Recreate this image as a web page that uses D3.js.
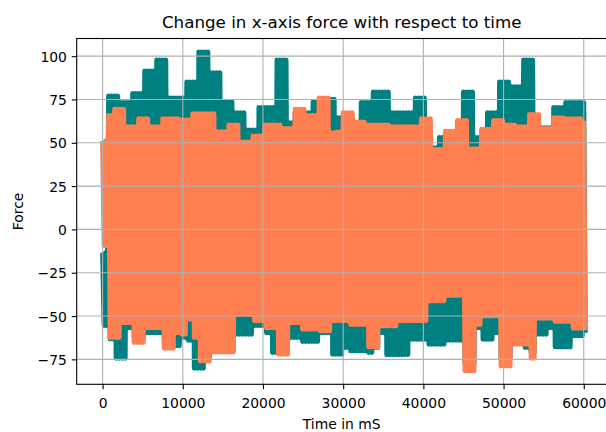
<!DOCTYPE html>
<html>
<head>
<meta charset="utf-8">
<script src="https://cdn.jsdelivr.net/npm/d3@7"></script>
<style>
  html, body { margin: 0; padding: 0; background: #ffffff; }
  svg { display: block; }
  text { font-family: "DejaVu Sans", sans-serif; fill: #000; }
</style>
</head>
<body>
<svg id="chart" width="606" height="432"></svg>
<script>
// ---- data ----
const title = "Change in x-axis force with respect to time";
const xLabel = "Time in mS";
const yLabel = "Force";

const timeMs = [0,750,1500,2250,3000,3750,4500,5250,6000,6750,7500,8250,9000,9750,10500,11250,12000,12750,13500,14250,15000,15750,16500,17250,18000,18750,19500,20250,21000,21750,22500,23250,24000,24750,25500,26250,27000,27750,28500,29250,30000,30750,31500,32250,33000,33750,34500,35250,36000,36750,37500,38250,39000,39750,40500,41250,42000,42750,43500,44250,45000,45750,46500,47250,48000,48750,49500,50250,51000,51750,52500,53250,54000,54750,55500,56250,57000,57750,58500,59250,60000];

// upper / lower envelope of each oscillating series
const tealHigh = [-13.4,77.0,77.0,73.2,73.2,78.5,78.5,91.4,91.4,97.8,
  97.8,75.9,75.9,75.9,85.1,85.1,102.4,102.4,90.5,90.5,
  73.6,73.6,67.4,67.4,57.4,57.4,70.3,70.3,70.3,97.8,
  97.8,61.6,67.4,66.2,67.4,73.6,73.6,73.6,75.1,64.5,
  64.5,64.5,61.6,73.2,73.2,79.3,79.3,79.3,67.4,67.4,
  67.4,67.4,75.9,75.9,58.7,47.2,53.0,55.8,55.8,58.7,
  79.3,79.3,53.0,55.8,67.4,67.4,85.1,85.1,82.4,82.4,
  97.8,97.8,61.6,58.7,58.7,70.3,70.3,73.2,73.2,73.2,73.2];
const tealLow = [-55.5,-63.3,-74.4,-74.4,-56.7,-62.4,-62.4,-59.6,-59.6,-59.6,
  -65.3,-65.3,-67.2,-62.4,-64.0,-80.1,-80.1,-74.0,-68.2,-68.2,
  -68.2,-68.2,-60.5,-60.5,-60.5,-55.5,-55.5,-59.6,-71.1,-71.1,
  -68.2,-62.4,-62.4,-64.7,-64.7,-64.7,-59.6,-59.6,-72.1,-72.1,
  -68.2,-70.1,-70.1,-70.1,-71.1,-68.2,-59.6,-72.4,-72.4,-72.4,
  -72.2,-63.4,-63.4,-63.4,-66.3,-66.3,-66.3,-64.0,-64.0,-64.0,
  -76.8,-76.8,-56.7,-63.4,-63.4,-59.6,-74.0,-74.0,-65.3,-65.3,
  -68.2,-71.1,-60.5,-60.5,-56.7,-67.8,-67.8,-67.8,-61.4,-61.4,-59.6];
const coralHigh = [51.1,65.8,69.3,69.3,59.3,59.3,63.9,63.9,59.3,59.3,
  63.9,63.9,63.9,63.2,63.2,66.8,66.8,66.8,66.8,56.4,
  56.4,60.3,60.3,50.5,50.5,53.9,53.9,60.3,60.3,60.3,
  58.3,58.3,69.3,69.3,65.8,65.8,75.9,75.9,55.8,56.3,
  67.4,67.4,62.0,62.0,60.3,60.3,60.3,60.3,59.3,59.3,
  59.3,59.3,59.3,63.9,63.9,46.2,46.2,56.6,56.6,62.9,
  62.9,46.6,46.6,57.8,57.8,62.9,62.9,60.3,60.3,59.3,
  59.3,66.4,66.4,58.3,58.3,64.5,64.5,63.9,63.9,63.9,61.6];
const coralLow = [-9.3,-62.4,-62.4,-53.8,-53.8,-65.3,-65.3,-56.7,-56.7,-56.7,
  -68.6,-68.6,-59.6,-60.5,-51.9,-62.4,-75.9,-75.9,-70.7,-70.7,
  -70.7,-70.7,-49.1,-49.1,-49.1,-52.7,-52.7,-56.7,-56.7,-72.1,
  -72.1,-53.8,-53.8,-57.6,-57.6,-57.6,-58.6,-58.6,-52.7,-52.7,
  -52.7,-54.9,-54.9,-54.9,-67.8,-67.8,-55.7,-55.7,-55.7,-52.7,
  -52.7,-52.7,-52.7,-52.7,-41.3,-41.3,-41.3,-38.2,-38.2,-38.2,
  -81.6,-81.6,-54.9,-50.0,-50.0,-50.0,-78.8,-78.8,-66.3,-66.3,
  -66.3,-74.4,-51.3,-51.3,-51.3,-53.2,-53.2,-53.2,-57.1,-57.1,-58.0];

const xTicks = [0,10000,20000,30000,40000,50000,60000];
const yTicks = [-75,-50,-25,0,25,50,75,100];

const seriesColors = ["#008080", "#FF7F50"];

// ---- layout ----
const W = 606, H = 432;
const plot = { left: 76.7, right: 606.7, top: 38.5, bottom: 384.3 };
const subStep = 187.5; // spacing of the oscillation inside one sample

const svg = d3.select("#chart");
svg.append("rect").attr("width", W).attr("height", H).attr("fill", "#fff");

const x = d3.scaleLinear().domain([-3230, 62860]).range([plot.left, plot.right]);
const y = d3.scaleLinear().domain([-89.4, 110.2]).range([plot.bottom, plot.top]);

svg.append("defs").append("clipPath").attr("id", "clip")
  .append("rect")
  .attr("x", plot.left).attr("y", plot.top)
  .attr("width", plot.right - plot.left).attr("height", plot.bottom - plot.top);

// oscillating trace: each sample swings between its high and low value twice
function trace(high, low) {
  const pts = [];
  timeMs.forEach((t, i) => {
    pts.push([t, high[i]]);
    pts.push([t + subStep, low[i]]);
    if (i < timeMs.length - 1) {
      pts.push([t + 2 * subStep, high[i]]);
      pts.push([t + 3 * subStep, low[i]]);
    }
  });
  return pts;
}
const series = [trace(tealHigh, tealLow), trace(coralHigh, coralLow)];

const line = d3.line().x(d => x(d[0])).y(d => y(d[1]));

const lines = svg.append("g").attr("clip-path", "url(#clip)");
series.forEach((pts, i) => {
  lines.append("path")
    .attr("d", line(pts))
    .attr("fill", "none")
    .attr("stroke", seriesColors[i])
    .attr("stroke-width", 5)
    .attr("stroke-linejoin", "round")
    .attr("stroke-linecap", "butt");
});

// grid (drawn above the lines, as in the reference)
const grid = svg.append("g").attr("stroke", "#b0b0b0").attr("stroke-width", 1.1);
grid.selectAll("line.vx").data(xTicks).enter().append("line")
  .attr("x1", d => x(d)).attr("x2", d => x(d))
  .attr("y1", plot.top).attr("y2", plot.bottom);
grid.selectAll("line.hy").data(yTicks).enter().append("line")
  .attr("x1", plot.left).attr("x2", plot.right)
  .attr("y1", d => y(d)).attr("y2", d => y(d));

// axes
const fmt = d3.format("d");
const xAxis = svg.append("g")
  .attr("transform", `translate(0,${plot.bottom})`)
  .call(d3.axisBottom(x).tickValues(xTicks).tickSize(4.9).tickPadding(4.9).tickFormat(fmt).tickSizeOuter(0));
xAxis.select(".domain").remove();
xAxis.selectAll(".tick line").attr("stroke", "#000").attr("stroke-width", 1.1);
xAxis.selectAll(".tick text").attr("font-size", "13.9px").attr("font-family", "DejaVu Sans")
  .attr("y", 24.2).attr("dy", 0).attr("fill", "#000");

const yAxis = svg.append("g")
  .attr("transform", `translate(${plot.left},0)`)
  .call(d3.axisLeft(y).tickValues(yTicks).tickSize(4.9).tickPadding(4.9).tickFormat(fmt).tickSizeOuter(0));
yAxis.select(".domain").remove();
yAxis.selectAll(".tick line").attr("stroke", "#000").attr("stroke-width", 1.1);
yAxis.selectAll(".tick text").attr("font-size", "13.9px").attr("font-family", "DejaVu Sans")
  .attr("dy", "0.36em").attr("fill", "#000");

// spines
svg.append("rect")
  .attr("x", plot.left).attr("y", plot.top)
  .attr("width", plot.right - plot.left).attr("height", plot.bottom - plot.top)
  .attr("fill", "none").attr("stroke", "#000").attr("stroke-width", 1.1);

// texts
svg.append("text")
  .attr("x", (plot.left + plot.right) / 2).attr("y", 28)
  .attr("text-anchor", "middle").attr("font-size", "16.7px")
  .text(title);
svg.append("text")
  .attr("x", (plot.left + plot.right) / 2).attr("y", 428.5)
  .attr("text-anchor", "middle").attr("font-size", "13.9px")
  .text(xLabel);
svg.append("text")
  .attr("transform", `translate(22.5,${(plot.top + plot.bottom) / 2}) rotate(-90)`)
  .attr("text-anchor", "middle").attr("font-size", "13.9px")
  .text(yLabel);
</script>
</body>
</html>
